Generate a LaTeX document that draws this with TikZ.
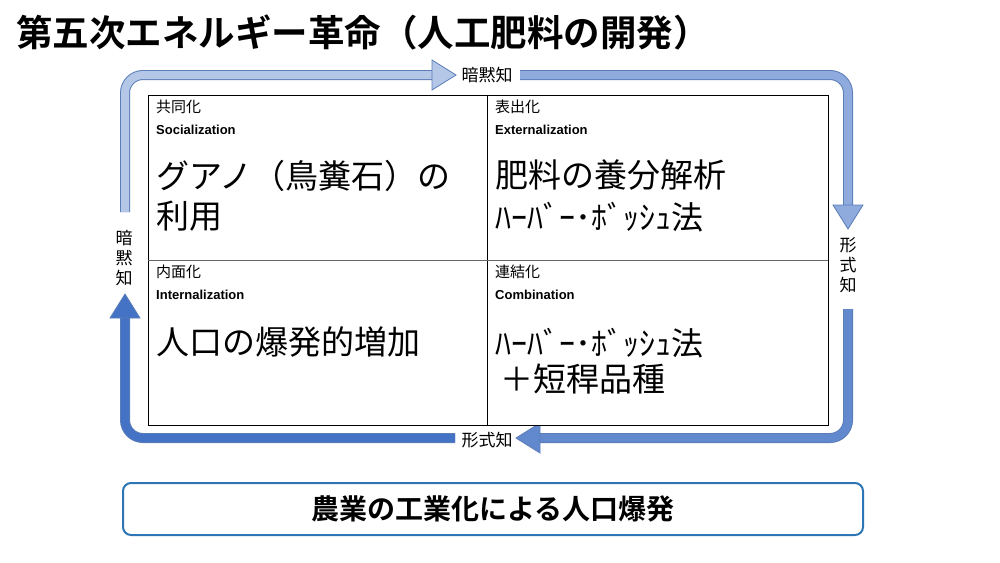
\documentclass[tikz,border=0pt]{standalone}
\usepackage{fontspec}
\setmainfont{Noto Sans CJK JP}
\newfontfamily\jpb{Noto Sans CJK JP}[BoldFont={* Bold}]
\newfontfamily\lat{Liberation Sans}
\usetikzlibrary{calc}
\definecolor{lightb}{HTML}{B4C7E7}
\definecolor{midb}{HTML}{8FAADC}
\definecolor{darkb}{HTML}{4472C4}
\definecolor{edgeb}{HTML}{5B7DB8}
\definecolor{boxb}{HTML}{2E75B6}
\tikzset{
  band/.style={line width=10pt, draw=edgeb},
  bandin/.style={line width=8pt, draw=#1},
  head/.style={fill=#1, draw=edgeb, line width=0.8pt},
  quad/.style={anchor=north west, inner sep=0pt, align=left},
  small/.style={quad, font=\fontsize{15}{17}\selectfont},
  eng/.style={quad, font=\lat\bfseries\fontsize{13}{15}\selectfont},
  big/.style={quad, font=\fontsize{33}{40}\selectfont},
  hb/.style={quad, font=\fontsize{32}{34}\selectfont},
  lab/.style={font=\fontsize{17}{18}\selectfont, inner sep=1pt}
}
\begin{document}
\begin{tikzpicture}[x=1pt,y=-1pt]
\useasboundingbox (0,0) rectangle (1000,562);
\node[anchor=west, inner sep=0pt, font=\jpb\bfseries\fontsize{36.5}{38}\selectfont] (title) at (16,32) {第五次エネルギー革命（人工肥料の開発）};
% arrows
\coordinate (a1s) at (125,212); \coordinate (a1e) at (432,75);
\draw[band] (a1s) -- (125,93) arc (180:270:18) -- (a1e);
\draw[bandin=lightb] (a1s) -- (125,93) arc (180:270:18) -- (a1e);
\draw[head=lightb] (432,60) -- (456,75) -- (432,90) -- cycle;
\coordinate (a2s) at (520,75); \coordinate (a2e) at (848,205);
\draw[band] (a2s) -- (830,75) arc (-90:0:18) -- (a2e);
\draw[bandin=midb] (a2s) -- (830,75) arc (-90:0:18) -- (a2e);
\draw[head=midb] (833,205) -- (848,229) -- (863,205) -- cycle;
\coordinate (a3s) at (848,309); \coordinate (a3e) at (540,438);
\draw[band] (a3s) -- (848,420) arc (0:90:18) -- (a3e);
\draw[bandin=midb!40!darkb] (a3s) -- (848,420) arc (0:90:18) -- (a3e);
\draw[head=midb!40!darkb] (540,423) -- (516,438) -- (540,453) -- cycle;
\coordinate (a4s) at (455,438); \coordinate (a4e) at (125,318);
\draw[band] (a4s) -- (143,438) arc (90:180:18) -- (a4e);
\draw[bandin=darkb] (a4s) -- (143,438) arc (90:180:18) -- (a4e);
\draw[head=darkb] (110,318) -- (125,294) -- (140,318) -- cycle;
\node[lab] (l1) at (487,75) {暗黙知};
\node[lab] (l3) at (487,440) {形式知};
\node[lab, align=center, font=\fontsize{17}{20}\selectfont] (l4) at (124,258) {暗\\黙\\知};
\node[lab, align=center, font=\fontsize{17}{20}\selectfont] (l2) at (848,265) {形\\式\\知};
% grid
\draw[line width=0.9pt, fill=white] (148,95) rectangle (828,425);
\draw[line width=0.9pt] (487,95) -- (487,425);
\draw[line width=0.9pt, draw=black!60] (148,260) -- (828,260);
% quadrants
\node[small] (q1h) at (156,100) {共同化};
\node[eng] (q1e) at (156,125) {Socialization};
\node[big] (q1t) at (156,160) {グアノ（鳥糞石）の\\利用};
\node[small] (q2h) at (495,100) {表出化};
\node[eng] (q2e) at (495,125) {Externalization};
\node[big] (q2t) at (495,160) {肥料の養分解析};
\node[hb] (q2s) at (495,202) {ﾊｰﾊﾞｰ･ﾎﾞｯｼｭ法};
\node[small] (q3h) at (156,265) {内面化};
\node[eng] (q3e) at (156,290) {Internalization};
\node[big] (q3t) at (156,326) {人口の爆発的増加};
\node[small] (q4h) at (495,265) {連結化};
\node[eng] (q4e) at (495,290) {Combination};
\node[hb] (q4t) at (495,328) {ﾊｰﾊﾞｰ･ﾎﾞｯｼｭ法};
\node[big] (q4u) at (500,364) {＋短稈品種};
% bottom box
\node[draw=boxb, line width=2pt, rounded corners=8pt, minimum width=740pt, minimum height=52pt, font=\jpb\bfseries\fontsize{28}{30}\selectfont] (res) at (493,509) {農業の工業化による人口爆発};
\end{tikzpicture}
\end{document}
